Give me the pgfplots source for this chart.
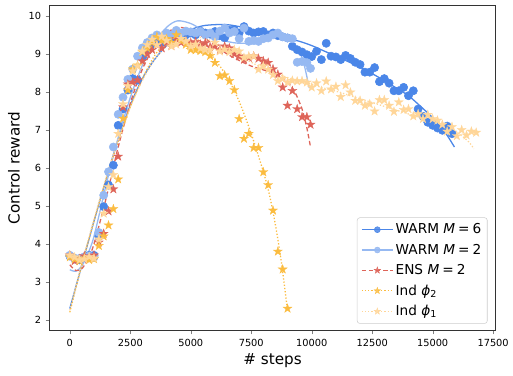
\documentclass[border=0pt]{standalone}
\usepackage{pgfplots}
\pgfplotsset{compat=1.18}
\usepackage{fontspec}
\setmainfont{DejaVu Sans}
\definecolor{cA}{HTML}{4A86E8}
\definecolor{cB}{HTML}{96B9F2}
\definecolor{cC}{HTML}{DE6459}
\definecolor{cD}{HTML}{FBBC40}
\definecolor{cE}{HTML}{FFD699}
\pgfdeclareplotmark{fstar}{%
  \pgfpathmoveto{\pgfqpointpolar{90}{\pgfplotmarksize}}%
  \pgfpathlineto{\pgfqpointpolar{126}{0.382\pgfplotmarksize}}%
  \pgfpathlineto{\pgfqpointpolar{162}{\pgfplotmarksize}}%
  \pgfpathlineto{\pgfqpointpolar{198}{0.382\pgfplotmarksize}}%
  \pgfpathlineto{\pgfqpointpolar{234}{\pgfplotmarksize}}%
  \pgfpathlineto{\pgfqpointpolar{270}{0.382\pgfplotmarksize}}%
  \pgfpathlineto{\pgfqpointpolar{306}{\pgfplotmarksize}}%
  \pgfpathlineto{\pgfqpointpolar{342}{0.382\pgfplotmarksize}}%
  \pgfpathlineto{\pgfqpointpolar{18}{\pgfplotmarksize}}%
  \pgfpathlineto{\pgfqpointpolar{54}{0.382\pgfplotmarksize}}%
  \pgfpathclose\pgfusepathqfillstroke}
\newcommand{\eq}{\hspace{0.22em}=\hspace{0.22em}}
\begin{document}
\begin{tikzpicture}
\begin{axis}[
  scale only axis, width=346pt, height=252pt,
  xmin=-840, xmax=17600, ymin=1.72, ymax=10.27,
  xtick={0,2500,5000,7500,10000,12500,15000,17500},
  ytick={2,3,4,5,6,7,8,9,10},
  scaled x ticks=false,
  tick align=outside, xtick pos=bottom, ytick pos=left,
  major tick length=3pt,
  /pgf/number format/assume math mode=true,
  /pgf/number format/1000 sep={},
  tick label style={font=\fontsize{7.6}{9}\selectfont},
  xlabel={\# steps}, ylabel={Control reward},
  label style={font=\fontsize{11.8}{13}\selectfont},
  xlabel style={yshift=1pt},
  axis line style={black!80, line width=0.6pt},
  legend cell align=left,
  legend style={at={(0.982,0.021)}, anchor=south east, draw=black!20, rounded corners=2pt,
    font=\fontsize{10.6}{12}\selectfont, row sep=3.2pt, inner sep=3pt, fill=white, fill opacity=0.85, text opacity=1,
    nodes={inner sep=1.6pt}},
]
% ---------- scatter points ----------
\addplot[only marks, mark=*, mark size=3.2pt, color=cA,
  legend image code/.code={\draw[cA, line width=1pt] (0cm,0cm) -- (0.85cm,0cm); \fill[cA] (0.425cm,0cm) circle (2.3pt);}]
coordinates {
(0,3.68)(200,3.62)(400,3.58)(600,3.65)(800,3.7)(1000,3.7)(1200,4.2)(1400,4.98)(1600,5.55)(1800,6.07)
(2000,7.12)(2200,7.55)(2400,8.05)(2600,8.35)(2800,8.31)(3000,8.9)(3200,9.1)(3400,9.2)(3600,9.35)(3800,9.3)
(4000,9.42)(4200,9.4)(4400,9.5)(4600,9.46)(4800,9.5)(5000,9.55)(5200,9.5)(5400,9.6)(5600,9.55)(5800,9.52)
(6000,9.59)(6200,9.48)(6400,9.42)(6600,9.62)(6800,9.64)(7000,9.55)(7200,9.72)(7400,9.6)(7600,9.55)(7800,9.58)
(8000,9.59)(8200,9.5)(8400,9.55)(8600,9.48)(8800,9.45)(9000,9.42)(9200,9.2)(9400,9.11)(9600,9.05)(9800,8.98)
(10000,8.93)(10200,9.07)(10400,8.85)(10600,9.28)(10800,8.94)(11000,8.92)(11200,8.85)(11400,8.96)(11600,8.88)(11800,8.78)
(12000,8.72)(12200,8.52)(12400,8.52)(12600,8.64)(12800,8.27)(13000,8.35)(13200,8.23)(13400,8.03)(13600,8.03)(13800,8.12)
(14000,7.9)(14200,8.03)(14400,7.55)(14600,7.36)(14800,7.2)(15000,7.12)(15200,7.05)(15400,6.99)(15600,7.1)(15800,6.9)
};
\addlegendentry{WARM \textit{M}\eq 6}
\addplot[only marks, mark=*, mark size=3.2pt, color=cB,
  legend image code/.code={\draw[cB, line width=1pt] (0cm,0cm) -- (0.85cm,0cm); \fill[cB] (0.425cm,0cm) circle (2.3pt);}]
coordinates {
(0,3.7)(200,3.6)(400,3.62)(600,3.66)(800,3.68)(1000,3.65)(1200,4.3)(1400,5.28)(1600,5.9)(1800,6.55)
(2000,7.41)(2200,7.86)(2400,8.33)(2600,8.6)(2800,8.94)(3000,9.16)(3200,9.3)(3400,9.42)(3600,9.5)(3800,9.45)
(4000,9.55)(4200,9.5)(4400,9.62)(4600,9.55)(4800,9.6)(5000,9.58)(5200,9.55)(5400,9.59)(5600,9.5)(5800,9.55)
(6000,9.45)(6200,9.6)(6400,9.68)(6600,9.55)(6800,9.59)(7000,9.4)(7200,9.68)(7400,9.33)(7600,9.35)(7800,9.33)
(8000,9.4)(8200,9.42)(8400,9.5)(8600,9.55)(8800,9.45)(9000,9.42)(9200,9.4)(9400,8.78)(9600,8.8)(9800,8.77)(9950,8.62)
};
\addlegendentry{WARM \textit{M}\eq 2}
\addplot[only marks, mark=fstar, mark size=3.7pt, color=cC, mark options={fill=cC, line width=0.2pt},
  legend image code/.code={\draw[cC, line width=1pt, dash pattern=on 3.5pt off 2pt] (0cm,0cm) -- (0.85cm,0cm); \draw[cC, fill=cC, mark=fstar, mark size=2.8pt, solid] plot coordinates {(0.425cm,0cm)};}]
coordinates {
(0,3.7)(200,3.55)(400,3.6)(600,3.68)(800,3.62)(1000,3.7)(1200,4.04)(1400,4.27)(1600,4.86)(1800,5.44)
(2000,6.3)(2200,7.6)(2400,8.2)(2600,8.25)(2800,8.31)(3000,8.81)(3200,9.0)(3400,9.11)(3600,9.24)(3800,9.15)
(4000,9.29)(4200,9.22)(4400,9.39)(4600,9.3)(4800,9.33)(5000,9.29)(5200,9.32)(5400,9.25)(5600,9.29)(5800,9.18)
(6000,9.2)(6200,9.1)(6400,9.2)(6600,9.15)(6800,9.0)(7000,8.94)(7200,8.85)(7400,8.9)(7600,8.94)(7800,8.88)
(8000,8.81)(8200,8.77)(8400,8.6)(8600,8.46)(8800,8.12)(9000,7.64)(9200,8.03)(9400,7.55)(9600,7.34)(9800,7.34)(9950,7.14)
};
\addlegendentry{ENS \textit{M}\eq 2}
\addplot[only marks, mark=fstar, mark size=3.7pt, color=cD, mark options={fill=cD, line width=0.2pt},
  legend image code/.code={\draw[cD, line width=1pt, dash pattern=on 1pt off 1.5pt] (0cm,0cm) -- (0.85cm,0cm); \draw[cD, fill=cD, mark=fstar, mark size=2.8pt, solid] plot coordinates {(0.425cm,0cm)};}]
coordinates {
(0,3.65)(200,3.6)(400,3.55)(600,3.62)(800,3.58)(1000,3.6)(1200,3.95)(1400,4.2)(1600,4.49)(1800,4.92)
(2000,5.7)(2200,7.3)(2400,8.05)(2600,8.6)(2800,8.7)(3000,9.05)(3200,9.15)(3400,9.3)(3600,9.45)(3800,9.35)
(4000,9.4)(4200,9.3)(4400,9.5)(4600,9.35)(4800,9.25)(5000,9.11)(5200,9.1)(5400,9.08)(5600,9.05)(5800,8.95)
(6000,8.77)(6200,8.42)(6400,8.44)(6600,8.29)(6800,8.05)(7000,7.29)(7200,6.77)(7400,6.9)(7600,6.53)(7800,6.53)
(8000,5.89)(8200,5.55)(8400,4.88)(8600,3.8)(8800,3.33)(9000,2.3)
};
\addlegendentry{Ind \textit{ϕ}\textsubscript{2}}
\addplot[only marks, mark=fstar, mark size=3.7pt, color=cE, mark options={fill=cE, line width=0.2pt},
  legend image code/.code={\draw[cE, line width=1pt, dash pattern=on 1pt off 1.5pt] (0cm,0cm) -- (0.85cm,0cm); \draw[cE, fill=cE, mark=fstar, mark size=2.8pt, solid] plot coordinates {(0.425cm,0cm)};}]
coordinates {
(0,3.7)(200,3.65)(400,3.58)(600,3.6)(800,3.66)(1000,3.62)(1200,4.12)(1400,4.8)(1600,5.5)(1800,5.82)
(2000,6.9)(2200,7.68)(2400,8.16)(2600,8.55)(2800,8.68)(3000,9.07)(3200,9.24)(3400,9.38)(3600,9.24)(3800,9.46)
(4000,9.35)(4200,9.2)(4400,9.25)(4600,9.4)(4800,9.33)(5000,9.2)(5200,9.25)(5400,9.15)(5600,9.11)(5800,9.1)
(6000,9.3)(6200,9.07)(6400,9.12)(6600,9.05)(6800,9.11)(7000,9.07)(7200,8.9)(7400,8.94)(7600,8.94)(7800,8.59)
(8000,8.68)(8200,8.59)(8400,8.45)(8600,8.29)(8800,8.35)(9000,8.25)(9200,8.3)(9400,8.28)(9600,8.29)(9800,8.25)
(10000,8.12)(10200,8.23)(10400,8.03)(10600,8.28)(10800,8.07)(11000,8.14)(11200,7.87)(11400,8.18)(11600,7.99)(11800,7.77)
(12000,7.77)(12200,7.64)(12400,7.68)(12600,7.49)(12800,7.79)(13000,7.79)(13200,7.64)(13400,7.48)(13600,7.73)(13800,7.53)
(14000,7.55)(14200,7.36)(14400,7.42)(14600,7.29)(14800,7.4)(15000,7.29)(15200,7.25)(15400,7.14)(15600,6.96)(15800,7.08)
(16000,6.84)(16200,7.0)(16400,6.86)(16600,6.96)(16800,6.93)
};
\addlegendentry{Ind \textit{ϕ}\textsubscript{1}}
% ---------- fitted curves ----------
\addplot[forget plot, smooth, no marks, cA, line width=1pt] coordinates {
(0,2.3)(500,3.45)(1000,4.6)(1500,5.7)(2000,6.75)(2500,7.65)(3000,8.35)(3500,8.85)(4000,9.22)(4500,9.48)
(5000,9.64)(5500,9.74)(6000,9.77)(6500,9.77)(7000,9.72)(7500,9.65)(8000,9.57)(8500,9.49)(9000,9.41)(9500,9.33)
(10000,9.22)(10500,9.08)(11000,8.94)(11500,8.8)(12000,8.65)(12500,8.48)(13000,8.3)(13500,8.1)(14000,7.9)(14500,7.62)
(15000,7.32)(15500,6.95)(15900,6.55)};
\addplot[forget plot, smooth, no marks, cB, line width=1pt] coordinates {
(0,3.32)(250,3.28)(500,3.42)(750,3.75)(1000,4.2)(1500,5.55)(2000,6.8)(2500,7.85)(3000,8.7)(3500,9.3)
(4000,9.7)(4450,9.87)(5000,9.8)(5500,9.62)(6000,9.45)(6500,9.33)(7000,9.28)(7500,9.3)(8000,9.38)(8500,9.47)
(8900,9.45)(9200,9.3)(9500,9.05)(9700,8.68)(9900,8.1)};
\addplot[forget plot, smooth, no marks, cC, line width=1pt, dash pattern=on 3.5pt off 2pt] coordinates {
(0,3.45)(250,3.3)(500,3.35)(750,3.6)(1000,4.0)(1500,5.2)(2000,6.55)(2500,7.7)(3000,8.6)(3500,9.2)
(4000,9.55)(4500,9.7)(5000,9.62)(5500,9.45)(6000,9.22)(6500,9.0)(7000,8.83)(7500,8.68)(8000,8.58)(8500,8.47)
(9000,8.25)(9300,8.0)(9600,7.55)(9800,7.05)(9950,6.55)};
\addplot[forget plot, smooth, no marks, cD, line width=1pt, dash pattern=on 1pt off 1.5pt] coordinates {
(0,2.2)(500,3.45)(1000,4.6)(1500,5.7)(2000,6.7)(2500,7.6)(3000,8.35)(3500,8.95)(4000,9.35)(4500,9.55)
(5000,9.5)(5500,9.25)(6000,8.85)(6500,8.4)(7000,7.75)(7500,6.9)(8000,5.9)(8250,5.3)(8500,4.5)(8750,3.5)(9000,2.25)};
\addplot[forget plot, smooth, no marks, cE, line width=1pt, dash pattern=on 1pt off 1.5pt] coordinates {
(0,2.25)(500,3.5)(1000,4.65)(1500,5.75)(2000,6.75)(2500,7.6)(3000,8.3)(3500,8.85)(4000,9.2)(4500,9.4)
(5000,9.45)(5500,9.42)(6000,9.3)(6500,9.12)(7000,8.95)(7500,8.78)(8000,8.62)(8500,8.5)(9000,8.38)(9500,8.28)
(10000,8.2)(10500,8.1)(11000,8.02)(11500,7.92)(12000,7.82)(12500,7.72)(13000,7.62)(13500,7.52)(14000,7.42)(14500,7.33)
(15000,7.28)(15500,7.15)(16000,6.95)(16500,6.68)(16700,6.5)};
\end{axis}
\path ([xshift=-38.4pt,yshift=-34.5pt]current axis.south west) rectangle ([xshift=9pt,yshift=4.4pt]current axis.north east);
\end{tikzpicture}
\end{document}
